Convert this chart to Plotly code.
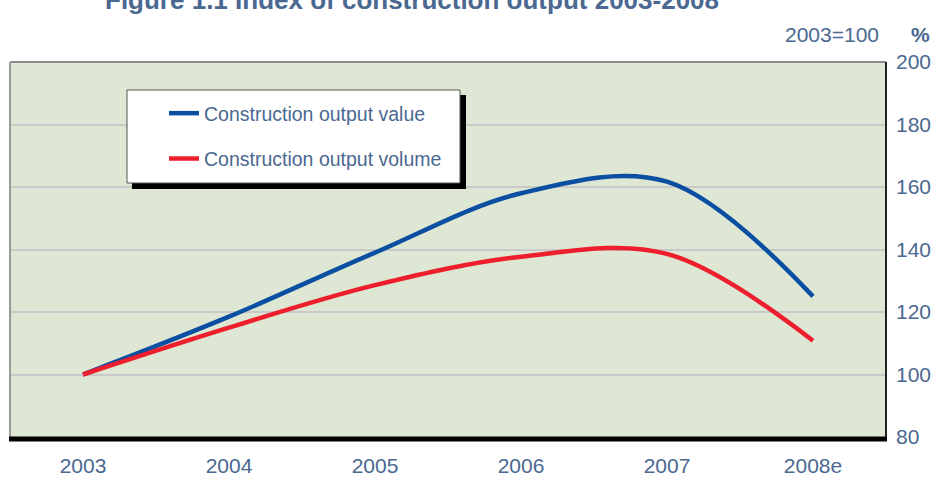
import plotly.graph_objects as go

years = ["2003", "2004", "2005", "2006", "2007", "2008e"]
output_value = [100, 118.5, 139, 158, 161.7, 125]
output_volume = [100, 115, 128.6, 137.7, 138.6, 110.8]

text_col = "#4a6890"

fig = go.Figure()
fig.add_trace(go.Scatter(x=years, y=output_value, mode="lines", name="Construction output value",
                         line=dict(color="#0b4fa2", width=4.5, shape="spline"), legendgroup="a"))
fig.add_trace(go.Scatter(x=years, y=output_volume, mode="lines", name="Construction output volume",
                         line=dict(color="#ee1f2d", width=4.5, shape="spline"), legendgroup="b"))

# pixel -> paper helpers for the frame decorations
L, R, T, B = 10, 886, 62, 437
def px(x): return (x - L) / (R - L)
def py(y): return (B - y) / (B - T)

shapes = [
    # legend shadow + box
    dict(type="rect", xref="paper", yref="paper", x0=px(132), x1=px(466), y0=py(95), y1=py(189),
         fillcolor="black", line=dict(width=0), layer="above"),
    dict(type="rect", xref="paper", yref="paper", x0=px(127), x1=px(460), y0=py(90), y1=py(183),
         fillcolor="white", line=dict(color="#555555", width=1), layer="above"),
    # plot frame
    dict(type="line", xref="paper", yref="paper", x0=0, x1=1, y0=1, y1=1, line=dict(color="#8c8c8c", width=2)),
    dict(type="line", xref="paper", yref="paper", x0=0, x1=0, y0=0, y1=1, line=dict(color="#9a9a9a", width=2)),
    dict(type="line", xref="paper", yref="paper", x0=1, x1=1, y0=0, y1=1, line=dict(color="#222222", width=2)),
    dict(type="line", xref="paper", yref="paper", x0=px(9), x1=px(887), y0=py(439), y1=py(439),
         line=dict(color="black", width=5)),
]

fig.update_layout(
    width=938, height=477,
    margin=dict(l=L, r=938 - R, t=T, b=477 - B),
    paper_bgcolor="white", plot_bgcolor="#dee6d4",
    font=dict(family="Liberation Sans, Arial, sans-serif", color=text_col),
    showlegend=True,
    legend=dict(x=px(164), y=py(94), xanchor="left", yanchor="top", bgcolor="rgba(0,0,0,0)",
                borderwidth=0, font=dict(size=19.5, color=text_col), tracegroupgap=17,
                traceorder="grouped"),
    shapes=shapes,
    annotations=[
        dict(text="<b>Figure 1.1 Index of construction output 2003-2008</b>", xref="paper", yref="paper",
             x=px(412), y=py(17), xanchor="center", yanchor="bottom", showarrow=False,
             font=dict(size=26, color=text_col)),
        dict(text="2003=100", xref="paper", yref="paper", x=px(832), y=py(35), xanchor="center",
             yanchor="middle", showarrow=False, font=dict(size=21, color=text_col)),
        dict(text="<b>%</b>", xref="paper", yref="paper", x=px(920), y=py(35), xanchor="center",
             yanchor="middle", showarrow=False, font=dict(size=21, color=text_col)),
    ],
    xaxis=dict(type="category", range=[-0.5, 5.5], showgrid=False, zeroline=False, showline=False,
               tickfont=dict(size=21, color=text_col), ticks="", ticklabelstandoff=14, automargin=False),
    yaxis=dict(side="right", range=[80, 200], tickvals=[80, 100, 120, 140, 160, 180, 200],
               showgrid=True, gridcolor="#c9c9c9", gridwidth=2, zeroline=False, showline=False,
               tickfont=dict(size=21, color=text_col), ticks="", ticklabelstandoff=9, automargin=False),
)

# the page's default 8px body margin would push the chart out of the window
fig.write_html("out.html", config={"displayModeBar": False},
               post_script="document.body.style.margin='0px';")
